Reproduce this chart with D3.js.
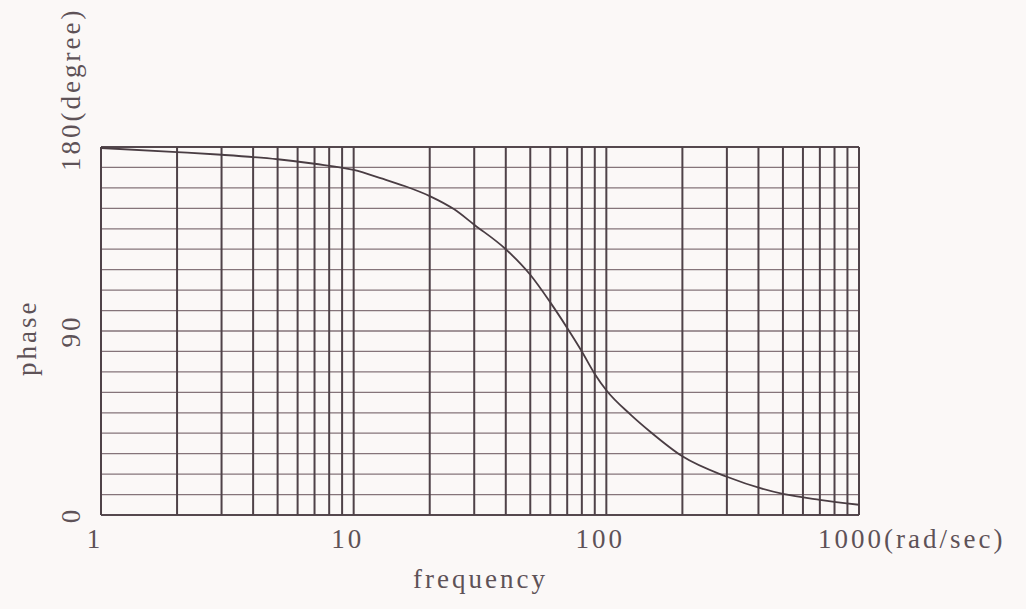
<!DOCTYPE html>
<html>
<head>
<meta charset="utf-8">
<script src="https://cdn.jsdelivr.net/npm/d3@7"></script>
<style>
  html, body { margin: 0; padding: 0; background: #fbf8f7; }
  svg { display: block; }
  text { font-family: "Liberation Serif", "DejaVu Serif", serif; fill: #5e5257; }
</style>
</head>
<body>
<svg id="chart" width="1026" height="609"></svg>
<script>
// Phase response of the system, read at discrete frequencies (rad/sec)
const frequency = [1, 2, 3, 5, 7, 10, 13, 16, 20, 25, 30, 40, 50, 60, 70, 80, 90, 100, 125, 150, 200, 300, 500, 700, 1000];
const phaseDeg  = [179.5, 177.5, 176.2, 174, 171.8, 168.8, 164.5, 160.8, 156, 149.5, 142, 130, 117.5, 104, 91.5, 80, 69, 61, 49, 40.5, 28.7, 18.7, 10.3, 7.4, 5];

// Axis ticks and labels
const xTickValues = [1, 10, 100, 1000];
const xTickLabels = ["1", "10", "100", "1000"];
const xUnit = "(rad/sec)";
const yTickValues = [0, 90, 180];
const yTickLabels = ["0", "90", "180"];
const yUnit = "(degree)";
const xTitle = "frequency";
const yTitle = "phase";

const svg = d3.select("#chart");
const W = 1026, H = 609;
const margin = { left: 101, right: W - 859, top: 147, bottom: H - 515 };

const x = d3.scaleLog().domain([1, 1000]).range([margin.left, W - margin.right]);
const y = d3.scaleLinear().domain([0, 180]).range([H - margin.bottom, margin.top]);

// Log-decade grid: 1..9 in each decade, plus the final 1000
const vGrid = [];
[1, 10, 100].forEach(d => { for (let m = 1; m <= 9; m++) vGrid.push(d * m); });
vGrid.push(1000);
const hGrid = d3.range(0, 181, 10);

const grid = svg.append("g");
grid.selectAll("line.h").data(hGrid).join("line")
  .attr("class", "h")
  .attr("x1", x(1)).attr("x2", x(1000))
  .attr("y1", d => y(d)).attr("y2", d => y(d))
  .attr("stroke", d => (d === 0 || d === 180) ? "#55484e" : "#85747a")
  .attr("stroke-width", d => (d === 0 || d === 180) ? 1.8 : 1.3);

grid.selectAll("line.v").data(vGrid).join("line")
  .attr("class", "v")
  .attr("x1", d => x(d)).attr("x2", d => x(d))
  .attr("y1", y(0)).attr("y2", y(180))
  .attr("stroke", "#4f4248")
  .attr("stroke-width", 2);

// Phase curve
const line = d3.line()
  .x((d, i) => x(frequency[i]))
  .y(d => y(d))
  .curve(d3.curveMonotoneX);

svg.append("path")
  .datum(phaseDeg)
  .attr("d", line)
  .attr("fill", "none")
  .attr("stroke", "#4a3d43")
  .attr("stroke-width", 1.8);

// Label styling
const fs = 27, ls = 3;

// X tick labels
const xl = svg.append("g").attr("font-size", fs).attr("letter-spacing", ls);
xTickValues.forEach((v, i) => {
  const t = xl.append("text")
    .attr("y", 548)
    .text(xTickLabels[i]);
  const w = t.node().getComputedTextLength();
  if (i < xTickValues.length - 1) {
    t.attr("x", x(v) - 6 - w / 2).attr("text-anchor", "start");
  } else {
    t.attr("x", x(v) - 8 - w / 2).attr("text-anchor", "start");
    t.append("tspan").text(xUnit);
  }
});

// X title
svg.append("text")
  .attr("x", 413).attr("y", 588)
  .attr("font-size", fs)
  .attr("letter-spacing", ls)
  .text(xTitle);

// Y tick labels (rotated)
const yl = svg.append("g").attr("font-size", fs).attr("letter-spacing", ls);
yTickValues.forEach((v, i) => {
  const isTop = i === yTickValues.length - 1;
  const t = yl.append("text").text(yTickLabels[i]);
  const w = t.node().getComputedTextLength();
  const start = isTop ? y(v) + 24 : y(v) + w / 2;
  t.attr("transform", `translate(80,${start}) rotate(-90)`)
   .attr("text-anchor", "start");
  if (isTop) t.append("tspan").text(yUnit);
});

// Y title
svg.append("text")
  .attr("transform", `translate(36,376) rotate(-90)`)
  .attr("font-size", fs)
  .attr("letter-spacing", ls)
  .text(yTitle);
</script>
</body>
</html>
